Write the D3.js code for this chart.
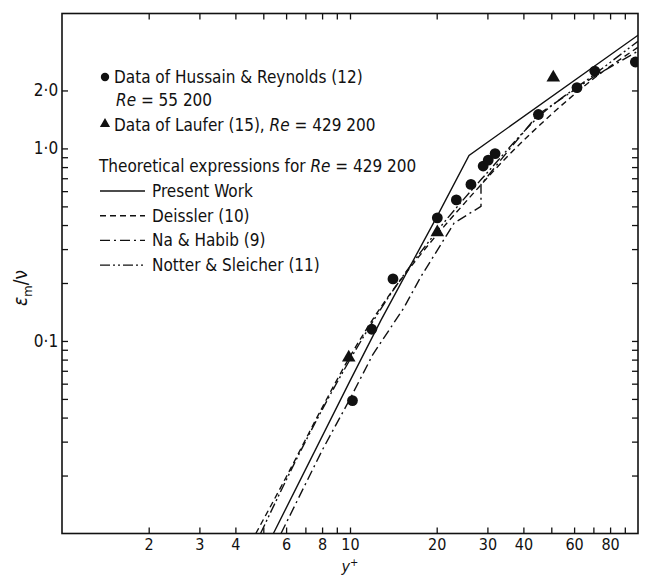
<!DOCTYPE html>
<html>
<head>
<meta charset="utf-8">
<script src="https://cdn.jsdelivr.net/npm/d3@7"></script>
<style>
  html, body { margin: 0; padding: 0; background: #fff; }
  svg text { font-family: "DejaVu Sans Condensed", "Liberation Sans Narrow", sans-serif; fill: #111; }
</style>
</head>
<body>
<svg id="chart" width="649" height="577"></svg>
<script>
// ---- data ----
const xTickValues = [2,3,4,5,6,7,8,9,10,20,30,40,50,60,70,80,90];
const xTickLabels = [2,3,4,6,8,10,20,30,40,60,80];
const yTickValues = [0.02,0.03,0.04,0.05,0.06,0.07,0.08,0.09,0.1,0.2,0.3,0.4,0.5,0.6,0.7,0.8,0.9,1,2];
const yTickLabels = [0.1, 1, 2];
const yTickText = ["0·1", "1·0", "2·0"];

const hussainX = [10.2, 11.9, 14.1, 20.1, 23.4, 26.3, 29.0, 30.2, 31.9, 45.1, 61.4, 70.8, 97.9];
const hussainY = [0.049, 0.115, 0.21, 0.436, 0.54, 0.65, 0.81, 0.87, 0.94, 1.50, 2.07, 2.52, 2.81];
const lauferX = [9.9, 20.1, 50.8];
const lauferY = [0.082, 0.367, 2.33];

const presentX = [5.42, 10, 12.8, 20, 25.9, 100];
const presentY = [0.01, 0.062, 0.128, 0.44, 0.92, 3.87];
const deisslerX = [4.71, 6, 8, 10, 13, 17.2, 25, 35, 50, 70, 100];
const deisslerY = [0.01, 0.0196, 0.045, 0.083, 0.155, 0.27, 0.52, 0.9, 1.5, 2.3, 3.35];
const notterX = [4.89, 7, 10, 14, 20, 30, 45, 70, 100];
const notterY = [0.01, 0.03, 0.08, 0.18, 0.37, 0.75, 1.45, 2.4, 3.6];
const naX = [5.76, 8, 10, 12, 15.4, 17.6, 23, 28.5, 28.5, 35, 45, 70, 100];
const naY = [0.01, 0.027, 0.05, 0.085, 0.149, 0.215, 0.41, 0.5, 0.65, 0.95, 1.5, 2.35, 3.2];

const legendLines = ["Present Work", "Deissler (10)", "Na & Habib (9)", "Notter & Sleicher (11)"];
const legendDash = ["none", "6,4", "10,4,2,4", "10,3,2,3,2,3"];

// ---- layout ----
const svg = d3.select("#chart");
const L = 62, R = 638, T = 13.5, B = 533.5;
const x = d3.scaleLog().domain([1, 100]).range([L, R]);
const y = d3.scaleLog().domain([0.01, 5.02]).range([B, T]);

const fmtNone = () => "";

// axes (inward ticks)
const gB = svg.append("g").attr("transform", `translate(0,${B})`)
  .call(d3.axisBottom(x).tickValues(xTickValues).tickSizeInner(-6).tickSizeOuter(0)
    .tickFormat(d => xTickLabels.includes(d) ? String(d) : ""));
const gT = svg.append("g").attr("transform", `translate(0,${T})`)
  .call(d3.axisTop(x).tickValues(xTickValues).tickSizeInner(-6).tickSizeOuter(0).tickFormat(fmtNone));
const gL = svg.append("g").attr("transform", `translate(${L},0)`)
  .call(d3.axisLeft(y).tickValues(yTickValues).tickSizeInner(-6).tickSizeOuter(0)
    .tickFormat(d => { const i = yTickLabels.indexOf(d); return i >= 0 ? yTickText[i] : ""; }));
const gR = svg.append("g").attr("transform", `translate(${R},0)`)
  .call(d3.axisRight(y).tickValues(yTickValues).tickSizeInner(-6).tickSizeOuter(0).tickFormat(fmtNone));

[gB, gT, gL, gR].forEach(g => {
  g.select(".domain").remove();
  g.selectAll(".tick line").attr("stroke", "#111").attr("stroke-width", 1.3);
  g.selectAll("text").style("font-family", '"DejaVu Sans Condensed", sans-serif').attr("fill", "#111");
});
gB.selectAll("text").attr("font-size", 16).attr("dy", "0.85em");
gL.selectAll("text").attr("font-size", 17).attr("dx", "-0.05em");

svg.append("rect").attr("x", L).attr("y", T).attr("width", R - L).attr("height", B - T)
  .attr("fill", "none").attr("stroke", "#111").attr("stroke-width", 1.6);

// axis titles
svg.append("text").attr("x", 350).attr("y", 572).attr("text-anchor", "middle")
  .attr("font-size", 16).style("font-style", "italic")
  .html('y<tspan dy="-6" font-size="11">+</tspan>');
svg.append("text").attr("transform", "translate(27,288) rotate(-90)").attr("text-anchor", "middle")
  .attr("font-size", 19)
  .html('<tspan font-style="italic">ε</tspan><tspan dy="5" font-size="13">m</tspan><tspan dy="-5">/ν</tspan>');

// ---- curves ----
svg.append("clipPath").attr("id", "clip").append("rect")
  .attr("x", L).attr("y", T).attr("width", R - L).attr("height", B - T);
const plot = svg.append("g").attr("clip-path", "url(#clip)");

function drawCurve(xs, ys, dash, curve) {
  const pts = xs.map((v, i) => [v, ys[i]]);
  plot.append("path").datum(pts)
    .attr("d", d3.line().x(d => x(d[0])).y(d => y(d[1])).curve(curve))
    .attr("fill", "none").attr("stroke", "#111").attr("stroke-width", 1.4)
    .attr("stroke-dasharray", dash);
}
drawCurve(presentX, presentY, "none", d3.curveLinear);
drawCurve(deisslerX, deisslerY, legendDash[1], d3.curveMonotoneX);
drawCurve(naX, naY, legendDash[2], d3.curveLinear);
drawCurve(notterX, notterY, legendDash[3], d3.curveMonotoneX);

// ---- markers ----
plot.selectAll("circle.h").data(hussainX.map((v, i) => [v, hussainY[i]])).enter()
  .append("circle").attr("cx", d => x(d[0])).attr("cy", d => y(d[1])).attr("r", 5.4).attr("fill", "#111");
const tri = d3.symbol().type(d3.symbolTriangle).size(80);
plot.selectAll("path.l").data(lauferX.map((v, i) => [v, lauferY[i]])).enter()
  .append("path").attr("d", tri).attr("transform", d => `translate(${x(d[0])},${y(d[1])})`).attr("fill", "#111");

// ---- legend ----
const fs = 17;
svg.append("circle").attr("cx", 105).attr("cy", 77).attr("r", 4.2).attr("fill", "#111");
svg.append("text").attr("x", 114).attr("y", 77).attr("dy", "0.35em").attr("font-size", fs)
  .text("Data of Hussain & Reynolds (12)");
svg.append("text").attr("x", 116).attr("y", 100).attr("dy", "0.35em").attr("font-size", fs)
  .html('<tspan font-style="italic">Re</tspan> = 55 200');
svg.append("path").attr("d", d3.symbol().type(d3.symbolTriangle).size(45))
  .attr("transform", "translate(105,124)").attr("fill", "#111");
svg.append("text").attr("x", 114).attr("y", 125).attr("dy", "0.35em").attr("font-size", fs)
  .html('Data of Laufer (15), <tspan font-style="italic">Re</tspan> = 429 200');
svg.append("text").attr("x", 99).attr("y", 166).attr("dy", "0.35em").attr("font-size", fs)
  .html('Theoretical expressions for <tspan font-style="italic">Re</tspan> = 429 200');
legendLines.forEach((name, i) => {
  const yy = 191 + i * 24.7;
  svg.append("line").attr("x1", 100).attr("x2", 145).attr("y1", yy).attr("y2", yy)
    .attr("stroke", "#111").attr("stroke-width", 1.4).attr("stroke-dasharray", legendDash[i]);
  svg.append("text").attr("x", 152).attr("y", yy).attr("dy", "0.35em").attr("font-size", fs).text(name);
});
</script>
</body>
</html>
